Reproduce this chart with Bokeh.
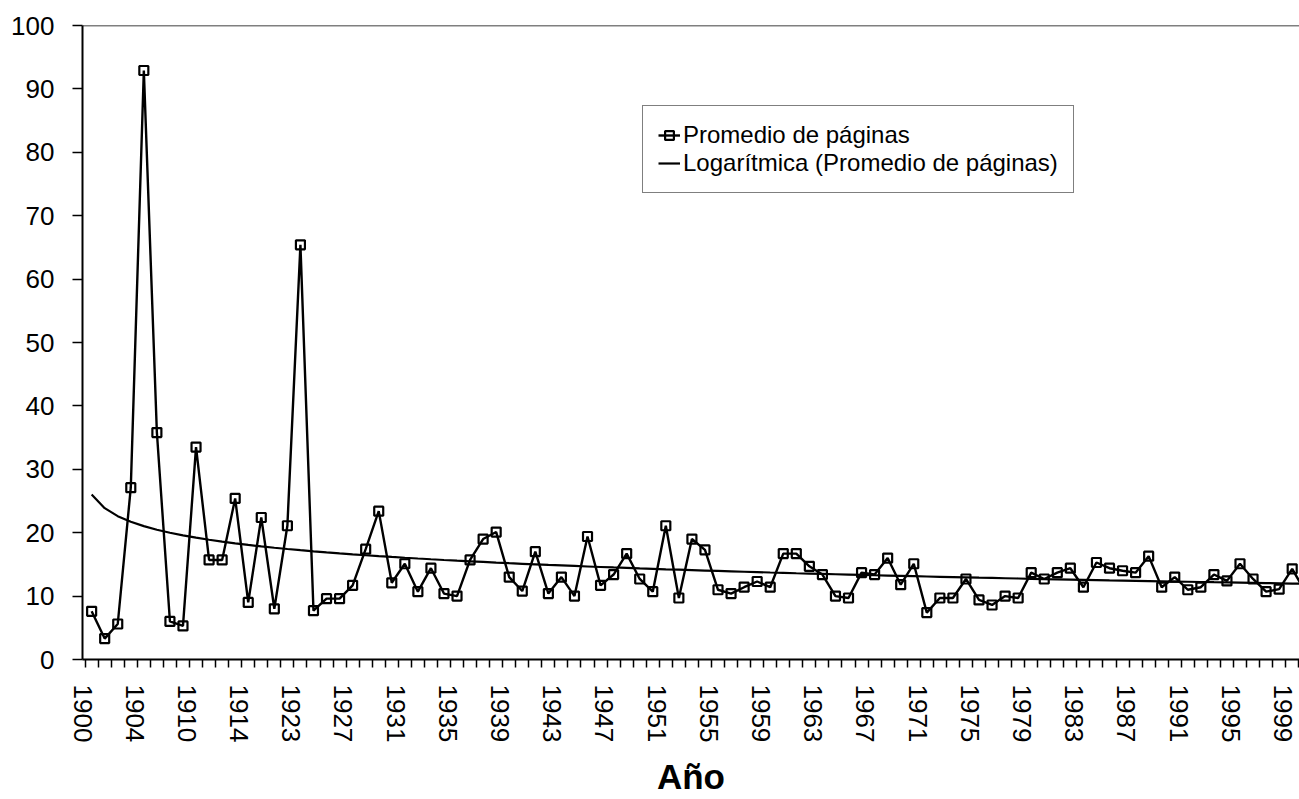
import numpy as np
from bokeh.plotting import figure
from bokeh.models import (Range1d, FixedTicker, Legend, LegendItem, Span)
from bokeh.embed import file_html
from bokeh.resources import INLINE

# Categories (years); the last one is cut off at the right edge of the chart
years = [1900, 1901, 1902, 1903, 1904, 1905, 1906, 1908, 1910, 1911,
         1912, 1913, 1914, 1916, 1919, 1921] + list(range(1923, 2001))

# Promedio de páginas
promedio = [7.6, 3.3, 5.6, 27.1, 92.9, 35.8, 6.0, 5.3, 33.5, 15.7,
            15.7, 25.4, 9.0, 22.4, 8.0, 21.1, 65.4, 7.7, 9.6, 9.6,
            11.7, 17.4, 23.4, 12.1, 15.1, 10.7, 14.4, 10.4, 10.0, 15.7,
            19.0, 20.1, 13.0, 10.8, 17.0, 10.4, 13.0, 10.0, 19.4, 11.7,
            13.4, 16.7, 12.7, 10.7, 21.1, 9.7, 19.0, 17.3, 11.0, 10.4,
            11.4, 12.3, 11.4, 16.7, 16.7, 14.7, 13.4, 10.0, 9.7, 13.7,
            13.4, 16.0, 11.8, 15.1, 7.4, 9.7, 9.7, 12.7, 9.4, 8.6,
            10.0, 9.7, 13.7, 12.7, 13.7, 14.4, 11.4, 15.3, 14.4, 14.0,
            13.7, 16.3, 11.4, 13.0, 11.0, 11.4, 13.4, 12.4, 15.1, 12.7,
            10.7, 11.1, 14.3, 10.7]

y_ticks = list(range(0, 101, 10))
label_step = 4

OFF = 0.2                  # category boundaries sit at k + OFF; labels sit at k
idx = np.arange(len(years))
xpos = idx + 0.5 + OFF     # category centres
vals = np.array(promedio, dtype=float)

# Logarithmic trendline (least squares on ln(category number)), like the spreadsheet
a, b = np.polyfit(np.log(idx + 1), vals, 1)
trend = a * np.log(idx + 1) + b

FONT = "Liberation Sans"

p = figure(width=1299, height=799, output_backend="svg", toolbar_location=None,
           x_range=Range1d(0, 93.26), y_range=Range1d(0, 100),
           min_border_left=82, min_border_right=0, min_border_top=25,
           min_border_bottom=140)
p.outline_line_color = None
p.xgrid.visible = False
p.ygrid.visible = False
p.background_fill_color = "white"
p.border_fill_color = "white"

l_main = p.line(xpos, vals, line_color="black", line_width=2.4)
s_main = p.scatter(xpos, vals, marker="square", size=9, line_color="black",
                   line_width=2.2, fill_color=None)
l_trend = p.line(xpos, trend, line_color="black", line_width=2.2)

p.add_layout(Span(location=100, dimension="width", line_color="black", line_width=1.7))

# x axis: tick marks on every category boundary, labels every 4th category
label_pos = list(range(0, 93, label_step))
p.xaxis.ticker = FixedTicker(ticks=label_pos,
                             minor_ticks=[k + OFF for k in range(0, 94)])
p.xaxis.major_label_overrides = {i: str(years[i]) for i in label_pos}
p.xaxis.major_label_orientation = "vertical"
p.xaxis.major_tick_out = 0
p.xaxis.major_tick_in = 0
p.xaxis.major_tick_line_color = None
p.xaxis.minor_tick_out = 8
p.xaxis.minor_tick_in = 0
p.xaxis.minor_tick_line_color = "black"
p.xaxis.minor_tick_line_width = 1.5
p.xaxis.axis_line_color = "black"
p.xaxis.axis_line_width = 2
p.xaxis.major_label_standoff = 17
p.xaxis.major_label_text_font = FONT
p.xaxis.major_label_text_font_size = "26px"
p.xaxis.major_label_text_color = "black"
p.xaxis.axis_label = "Año"
p.xaxis.axis_label_text_font = FONT
p.xaxis.axis_label_text_font_size = "35px"
p.xaxis.axis_label_text_font_style = "bold"
p.xaxis.axis_label_text_color = "black"
p.xaxis.axis_label_standoff = 12

# y axis
p.yaxis.ticker = FixedTicker(ticks=y_ticks)
p.yaxis.major_tick_out = 10
p.yaxis.major_tick_in = 0
p.yaxis.major_tick_line_color = "black"
p.yaxis.major_tick_line_width = 1.5
p.yaxis.minor_tick_line_color = None
p.yaxis.axis_line_color = "black"
p.yaxis.axis_line_width = 2
p.yaxis.major_label_standoff = 18
p.yaxis.major_label_text_font = FONT
p.yaxis.major_label_text_font_size = "26px"
p.yaxis.major_label_text_color = "black"

legend = Legend(items=[
    LegendItem(label="Promedio de páginas", renderers=[l_main, s_main]),
    LegendItem(label="Logarítmica (Promedio de páginas)", renderers=[l_trend]),
], location=(560, 466))
legend.border_line_color = "black"
legend.border_line_width = 1
legend.background_fill_color = "white"
legend.background_fill_alpha = 1
legend.label_text_font = FONT
legend.label_text_font_size = "24px"
legend.label_text_color = "black"
legend.glyph_width = 22
legend.glyph_height = 28
legend.label_height = 28
legend.spacing = 0
legend.padding = 15
legend.margin = 0
legend.label_standoff = 3
p.add_layout(legend)

open("out.html", "w").write(file_html(p, INLINE))
